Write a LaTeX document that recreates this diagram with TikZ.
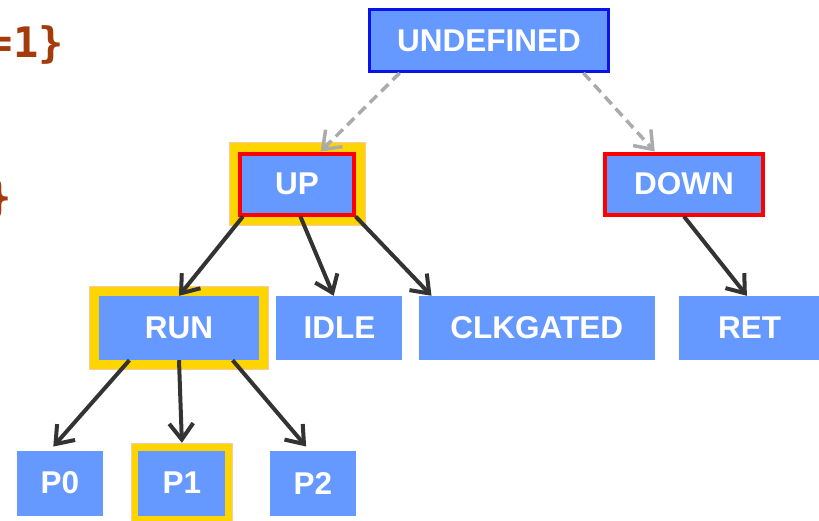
\documentclass[tikz,border=0pt]{standalone}
\usepackage{fontspec}
\setmainfont{Liberation Sans}
\newfontfamily\codefont{DejaVu Sans Mono}
\usetikzlibrary{positioning,arrows.meta,fit,backgrounds}
\definecolor{stblue}{HTML}{6699FF}
\definecolor{topblue}{HTML}{0A14E6}
\definecolor{actred}{HTML}{FF0000}
\definecolor{hlyel}{HTML}{FFD500}
\definecolor{hlpeach}{HTML}{F8C8A8}
\definecolor{ink}{HTML}{333333}
\definecolor{dash}{HTML}{ABABAB}
\definecolor{code}{HTML}{A33B0C}
\newcommand{\statefont}{\fontsize{31.5}{31.5}\selectfont\bfseries}
\tikzset{
  st/.style={fill=stblue,text=white,font=\statefont,minimum height=64pt,inner sep=0pt},
  topst/.style={st,draw=topblue,line width=3pt,minimum height=62pt},
  actst/.style={st,draw=actred,line width=4pt,minimum height=61pt},
  hl/.style={fill=hlyel,draw=hlpeach,line width=1pt,inner sep=7pt},
  arr/.style={-{Straight Barb[length=16pt,width=24pt]},line width=4pt,draw=ink},
  darr/.style={arr,draw=dash,line width=3.5pt,dash pattern=on 10pt off 6pt},
  codetxt/.style={font=\codefont\fontsize{42}{42}\selectfont\bfseries,text=code,inner sep=0pt},
}
\begin{document}
\begin{tikzpicture}[x=1pt,y=-1pt]
\useasboundingbox (0,0) rectangle (819,520);
\clip (0,0) rectangle (819,520);
% code fragments at the left edge
\node[codetxt,anchor=east] (cd1) at (64,45) {=1\}};
\node[codetxt,anchor=east] (cd2) at (12,199) {\}};
% states
\node[topst,minimum width=239pt] (undef) at (489,40.5) {UNDEFINED};
\node[actst,minimum width=114pt] (up) at (297,184) {UP};
\node[actst,minimum width=158pt] (down) at (684,184) {DOWN};
\node[st,minimum width=160pt] (run) at (179,328) {RUN};
\node[st,minimum width=126pt,right=17pt of run] (idle) {IDLE};
\node[st,minimum width=236pt,right=16pt of idle] (clk) {CLKGATED};
\node[st,minimum width=141pt,right=24pt of clk] (ret) {RET};
\node[st,minimum width=86pt,minimum height=65pt] (p0) at (60,483) {P0};
\node[st,minimum width=87pt,minimum height=65pt,right=35pt of p0] (p1) {P1};
\node[st,minimum width=86pt,minimum height=65pt,right=44pt of p1] (p2) {P2};
% highlights
\begin{scope}[on background layer]
\node[hl,fit=(up),inner sep=9pt] (uph) {};
\node[hl,fit=(run),inner sep=9.5pt] (runh) {};
\node[hl,fit=(p1)] (p1h) {};
\end{scope}
% transitions
\draw[darr] (undef.200) -- (up.54);
\draw[darr] (undef.341) -- (down.132);
\draw[arr] (up.211) -- (run.north);
\draw[arr] (up.-84) -- (idle.100);
\draw[arr] (up.-29) -- (clk.163);
\draw[arr] (down.south) -- (ret.95);
\draw[arr,shorten >=5pt] (run.213) -- (p0.107);
\draw[arr] (run.south) -- (p1h.north);
\draw[arr,shorten >=5pt] (run.-31) -- (p2.96);
\end{tikzpicture}
\end{document}
